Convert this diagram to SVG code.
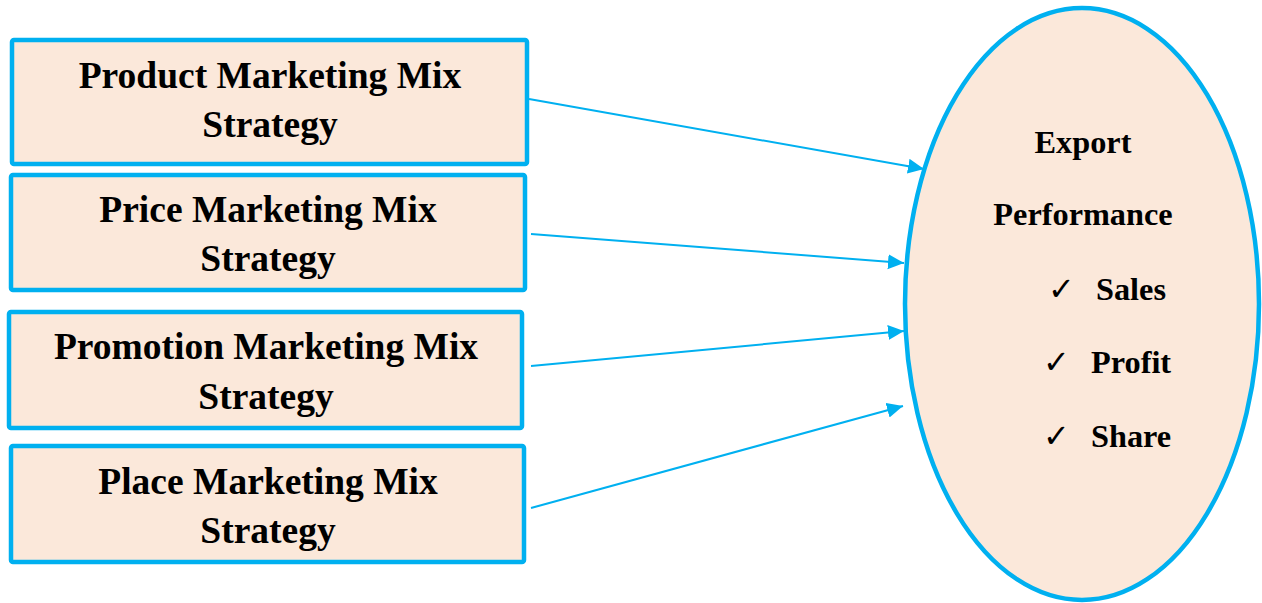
<svg xmlns="http://www.w3.org/2000/svg" width="1262" height="603" viewBox="0 0 1262 603">
  <style>
    .box { fill: #FBE8DA; stroke: #00B0F0; stroke-width: 4.5; }
    .lbl { font-family: "Liberation Serif", "Times New Roman", serif; font-weight: bold; font-size: 37.5px; fill: #000; text-anchor: middle; }
    .elbl { font-family: "Liberation Serif", "Times New Roman", serif; font-weight: bold; font-size: 32.3px; fill: #000; }
    .chk { font-family: "DejaVu Sans", sans-serif; font-weight: bold; font-size: 32px; fill: #000; }
    .conn { stroke: #00B0F0; stroke-width: 2; fill: none; }
  </style>
  <defs>
    <marker id="arrow" markerUnits="userSpaceOnUse" markerWidth="17" markerHeight="16" refX="16" refY="7.5" orient="auto">
      <path d="M0,0 L16,7.5 L0,15 z" fill="#00B0F0"/>
    </marker>
  </defs>
  <rect width="1262" height="603" fill="#FFFFFF"/>

  <g id="node-product">
    <rect class="box" x="12" y="40" width="515" height="124" rx="2"/>
    <text class="lbl" x="270" y="88">Product Marketing Mix</text>
    <text class="lbl" x="270" y="137">Strategy</text>
  </g>
  <g id="node-price">
    <rect class="box" x="11" y="175" width="514" height="115" rx="2"/>
    <text class="lbl" x="268" y="222">Price Marketing Mix</text>
    <text class="lbl" x="268" y="271">Strategy</text>
  </g>
  <g id="node-promotion">
    <rect class="box" x="9" y="312" width="513" height="116" rx="2"/>
    <text class="lbl" x="266" y="359">Promotion Marketing Mix</text>
    <text class="lbl" x="266" y="409">Strategy</text>
  </g>
  <g id="node-place">
    <rect class="box" x="11" y="446" width="513" height="116" rx="2"/>
    <text class="lbl" x="268" y="494">Place Marketing Mix</text>
    <text class="lbl" x="268" y="543">Strategy</text>
  </g>

  <g id="node-export">
    <ellipse class="box" cx="1082" cy="304" rx="177" ry="296"/>
    <text class="elbl" x="1083" y="153" text-anchor="middle">Export</text>
    <text class="elbl" x="1083" y="225" text-anchor="middle">Performance</text>
    <text class="chk" x="1048" y="300">✓</text>
    <text class="elbl" x="1096" y="300">Sales</text>
    <text class="chk" x="1043" y="373">✓</text>
    <text class="elbl" x="1091" y="373">Profit</text>
    <text class="chk" x="1043" y="447">✓</text>
    <text class="elbl" x="1091" y="447">Share</text>
  </g>

  <g id="connectors">
    <line class="conn" x1="529" y1="99" x2="924" y2="169" marker-end="url(#arrow)"/>
    <line class="conn" x1="531" y1="234" x2="904" y2="263" marker-end="url(#arrow)"/>
    <line class="conn" x1="531" y1="366" x2="904" y2="331" marker-end="url(#arrow)"/>
    <line class="conn" x1="531" y1="508" x2="903" y2="406" marker-end="url(#arrow)"/>
  </g>
</svg>
